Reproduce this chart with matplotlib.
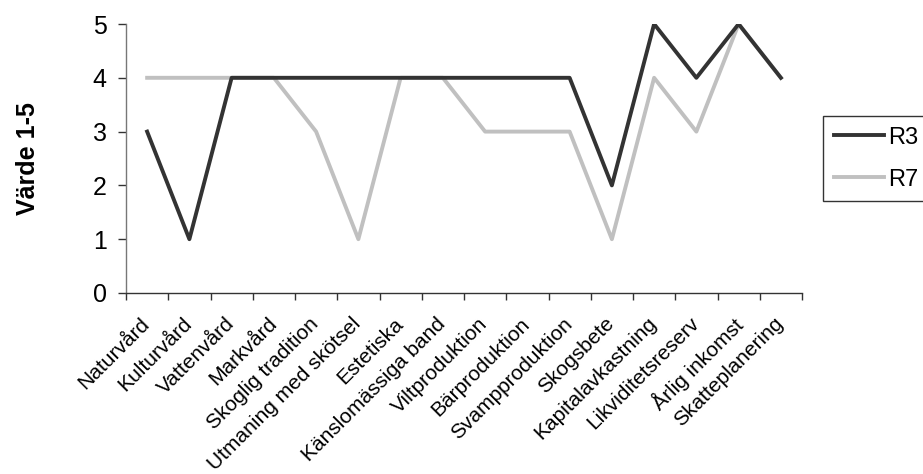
import matplotlib
matplotlib.use("Agg")
import matplotlib.pyplot as plt
import matplotlib.transforms as mtransforms
import numpy as np

plt.rcParams['font.family'] = ['Liberation Sans', 'DejaVu Sans']

categories = ["Naturvård", "Kulturvård", "Vattenvård", "Markvård", "Skoglig tradition",
              "Utmaning med skötsel", "Estetiska", "Känslomässiga band", "Viltproduktion",
              "Bärproduktion", "Svampproduktion", "Skogsbete", "Kapitalavkastning",
              "Likviditetsreserv", "Årlig inkomst", "Skatteplanering"]
r3 = [3, 1, 4, 4, 4, 4, 4, 4, 4, 4, 4, 2, 5, 4, 5, 4]
r7 = [4, 4, 4, 4, 3, 1, 4, 4, 3, 3, 3, 1, 4, 3, 5, 4]

W, H = 923, 474
DPI = 100
fig = plt.figure(figsize=(W / DPI, H / DPI), dpi=DPI)
ax = fig.add_axes([126 / W, 1 - 293 / H, (802 - 126) / W, (293 - 24) / H])

x = np.arange(len(categories))
ax.plot(x, r3, color="#333333", lw=2.8, label="R3", zorder=3)
ax.plot(x, r7, color="#c0c0c0", lw=2.8, label="R7", zorder=2)

ax.set_xlim(-0.5, len(categories) - 0.5)
ax.set_ylim(0, 5)
ax.set_yticks(range(6))
ax.tick_params(axis='y', labelsize=18, direction='out', length=6, width=1,
               color="#333333", pad=8)

# tick marks sit on the category boundaries
ax.set_xticks(np.arange(len(categories) + 1) - 0.5)
ax.set_xticklabels([])
ax.tick_params(axis='x', direction='out', length=5, width=1, color="#333333")

# rotated category names, ending just left of each category centre
base = ax.get_xaxis_transform()
shift = mtransforms.ScaledTranslation(-7 / DPI, -21 / DPI, fig.dpi_scale_trans)
for xi, name in zip(x, categories):
    ax.text(xi, 0, name, transform=base + shift, rotation=45, ha='right', va='top',
            rotation_mode='anchor', fontsize=15, color='black')

for s in ['top', 'right']:
    ax.spines[s].set_visible(False)
ax.spines['left'].set_color("#777777")
ax.spines['bottom'].set_color("#333333")
for s in ['left', 'bottom']:
    ax.spines[s].set_linewidth(1)

ax.set_ylabel("Värde 1-5", fontsize=18, fontweight='bold', labelpad=38)

leg = ax.legend(loc='upper left', bbox_to_anchor=(823 / W, 1 - 116 / H),
                bbox_transform=fig.transFigure, frameon=True, fancybox=False,
                fontsize=17, handlelength=2.15, handletextpad=0.17, borderpad=0.45,
                labelspacing=0.85, borderaxespad=0)
leg.get_frame().set_edgecolor('black')
leg.get_frame().set_linewidth(1)

fig.savefig("out.png", dpi=DPI)
